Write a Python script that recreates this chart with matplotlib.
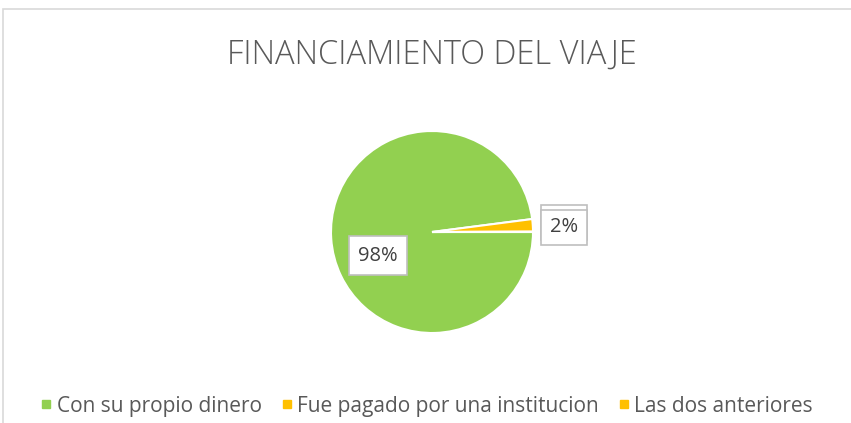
import matplotlib
matplotlib.use("Agg")
import matplotlib.pyplot as plt
from matplotlib.lines import Line2D
from matplotlib.patches import Rectangle

plt.rcParams['font.family'] = ['Open Sans', 'DejaVu Sans']

categorias = ["Con su propio dinero", "Fue pagado por una institucion", "Las dos anteriores"]
valores = [98, 2, 0.05]
etiquetas = ["98%", "2%"]
colores = ["#92D050", "#FFC000", "#FFC000"]
titulo = "FINANCIAMIENTO DEL VIAJE"

W, H = 851, 423
fig = plt.figure(figsize=(W / 100, H / 100), dpi=100)

# borde del area del grafico
fig.patches.append(Rectangle((3 / W, -0.1), 1.2, (H - 9) / H + 0.1, transform=fig.transFigure,
                             fill=False, edgecolor="#D9D9D9", linewidth=1.2))

cx, cy, r = 432, 232, 101
ax = fig.add_axes([(cx - r) / W, (H - cy - r) / H, 2 * r / W, 2 * r / H])
wedges, _ = ax.pie(valores, colors=colores, startangle=0, counterclock=False,
                   wedgeprops=dict(edgecolor="white", linewidth=1.5))
ax.set_xlim(-1, 1)
ax.set_ylim(-1, 1)
ax.axis("off")

def caja(x0, y0, w, h, z):
    ax.add_patch(Rectangle((x0, y0), w, h, facecolor="white", edgecolor="#BFBFBF",
                           linewidth=1.2, zorder=z, clip_on=False))

# caja de la porcion casi nula, oculta detras de la de 2%
caja(1.08, -0.08, 0.455, 0.347, 3)
caja(1.08, -0.129, 0.455, 0.347, 4)
ax.text(1.307, 0.045, etiquetas[1], fontsize=14.5, color="#404040", ha="center", va="center",
        zorder=5, clip_on=False)
caja(-0.822, -0.426, 0.574, 0.386, 4)
ax.text(-0.535, -0.233, etiquetas[0], fontsize=14.5, color="#404040", ha="center", va="center",
        zorder=5)

fig.text(cx / W, 1 - 55 / H, titulo, fontsize=23.5, color="#595959", ha="center", va="center",
         fontweight="light")

handles = [Line2D([], [], marker="s", linestyle="none", markersize=6, color=c) for c in colores]
fig.legend(handles, categorias, loc="center", bbox_to_anchor=(0.5, 1 - 406 / H), ncol=3,
           frameon=False, fontsize=15, labelcolor="#595959", handletextpad=0.1,
           columnspacing=0.8, handlelength=0.8)

fig.savefig("out.png", dpi=100)
